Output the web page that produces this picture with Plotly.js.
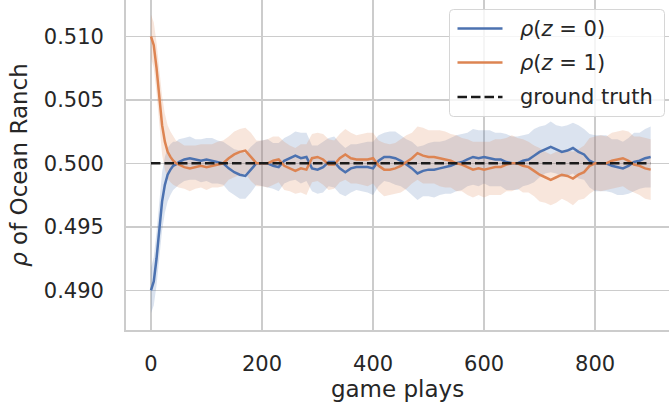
<!DOCTYPE html>
<html>
<head>
<meta charset="utf-8">
<script src="https://cdn.plot.ly/plotly-3.0.1.min.js"></script>
<style>html,body{margin:0;padding:0;background:#fff;}#chart{width:669px;height:410px;}</style>
</head>
<body>
<div id="chart"></div>
<script>
// ---- data ----
const gamePlays = [0,5,10,15,20,25,30,35,40,45,50,
  60,70,80,90,100,110,120,130,140,150,
  160,170,180,190,200,210,220,230,240,250,
  260,270,280,290,300,310,320,330,340,350,
  360,370,380,390,400,410,420,430,440,450,
  460,470,480,490,500,510,520,530,540,550,
  560,570,580,590,600,610,620,630,640,650,
  660,670,680,690,700,710,720,730,740,750,
  760,770,780,790,800,810,820,830,840,850,
  860,870,880,890,900];

const rhoZ0 = [0.4900,0.4907,0.4925,0.4950,0.4970,0.4983,0.4991,0.4995,0.4998,0.4999,0.5001,
  0.5003,0.5004,0.5003,0.5002,0.5003,0.5002,0.5001,0.5000,0.4996,0.4993,
  0.4991,0.4990,0.4995,0.5000,0.5000,0.5000,0.4998,0.4997,0.5002,0.5004,
  0.5006,0.5004,0.5005,0.4996,0.4995,0.4997,0.5001,0.5001,0.4996,0.4993,
  0.4996,0.4997,0.4997,0.4997,0.4996,0.5002,0.5005,0.5005,0.5004,0.5002,
  0.4999,0.4996,0.4992,0.4994,0.4995,0.4995,0.4996,0.4997,0.4998,0.5000,
  0.5001,0.5003,0.5005,0.5004,0.5005,0.5004,0.5003,0.5003,0.5001,0.5000,
  0.5000,0.5002,0.5003,0.5006,0.5009,0.5011,0.5013,0.5011,0.5009,0.5010,
  0.5012,0.5009,0.5007,0.5002,0.5000,0.5000,0.5000,0.4998,0.4997,0.4996,
  0.4998,0.5001,0.5002,0.5004,0.5005];

const rhoZ1 = [0.5100,0.5093,0.5075,0.5050,0.5030,0.5017,0.5009,0.5005,0.5002,0.5000,0.4999,
  0.4997,0.4996,0.4997,0.4998,0.4997,0.4998,0.4999,0.5000,0.5004,0.5007,
  0.5009,0.5010,0.5005,0.5000,0.5000,0.5000,0.5002,0.5003,0.4998,0.4996,
  0.4994,0.4996,0.4995,0.5004,0.5005,0.5003,0.4999,0.4999,0.5004,0.5007,
  0.5004,0.5003,0.5003,0.5003,0.5004,0.4998,0.4995,0.4995,0.4996,0.4998,
  0.5001,0.5004,0.5008,0.5006,0.5005,0.5005,0.5004,0.5003,0.5002,0.5000,
  0.4999,0.4997,0.4995,0.4996,0.4995,0.4996,0.4997,0.4997,0.4999,0.5000,
  0.5000,0.4998,0.4997,0.4994,0.4991,0.4989,0.4987,0.4989,0.4991,0.4990,
  0.4988,0.4991,0.4993,0.4998,0.5000,0.5000,0.5000,0.5002,0.5003,0.5004,
  0.5002,0.4999,0.4998,0.4996,0.4995];

// half-width of the shaded band around each series
const errZ0 = [0.0018,0.0019,0.0021,0.0023,0.0023,0.0022,0.0021,0.0020,0.0019,0.0018,0.0018,
  0.0017,0.0017,0.0016,0.0017,0.0017,0.0018,0.0017,0.0017,0.0018,0.0018,
  0.0019,0.0018,0.0018,0.0017,0.0018,0.0019,0.0018,0.0019,0.0018,0.0018,
  0.0019,0.0020,0.0019,0.0018,0.0019,0.0020,0.0019,0.0020,0.0020,0.0019,
  0.0019,0.0018,0.0019,0.0020,0.0021,0.0020,0.0019,0.0020,0.0021,0.0020,
  0.0020,0.0021,0.0021,0.0020,0.0021,0.0022,0.0021,0.0021,0.0022,0.0022,
  0.0022,0.0021,0.0022,0.0022,0.0021,0.0022,0.0021,0.0021,0.0022,0.0021,
  0.0021,0.0020,0.0020,0.0021,0.0020,0.0019,0.0020,0.0019,0.0020,0.0020,
  0.0020,0.0021,0.0020,0.0021,0.0022,0.0022,0.0022,0.0021,0.0022,0.0021,
  0.0022,0.0023,0.0022,0.0023,0.0024];

const errZ1 = [0.0017,0.0018,0.0020,0.0022,0.0023,0.0022,0.0021,0.0020,0.0019,0.0018,0.0018,
  0.0017,0.0018,0.0017,0.0017,0.0018,0.0017,0.0018,0.0018,0.0017,0.0018,
  0.0018,0.0018,0.0019,0.0018,0.0018,0.0019,0.0019,0.0018,0.0019,0.0018,
  0.0018,0.0019,0.0020,0.0019,0.0019,0.0020,0.0020,0.0019,0.0019,0.0020,
  0.0020,0.0019,0.0020,0.0021,0.0020,0.0020,0.0021,0.0020,0.0020,0.0021,
  0.0021,0.0020,0.0021,0.0022,0.0021,0.0021,0.0022,0.0022,0.0021,0.0022,
  0.0021,0.0022,0.0022,0.0021,0.0022,0.0021,0.0022,0.0022,0.0021,0.0022,
  0.0020,0.0021,0.0020,0.0020,0.0021,0.0020,0.0020,0.0020,0.0019,0.0020,
  0.0021,0.0020,0.0021,0.0022,0.0021,0.0022,0.0021,0.0022,0.0022,0.0022,
  0.0023,0.0022,0.0023,0.0024,0.0024];

const groundTruthX = [0, 900];
const groundTruthY = [0.5, 0.5];

const seriesNames = ['<i>ρ</i>(<i>z</i> = 0)', '<i>ρ</i>(<i>z</i> = 1)', 'ground truth'];
const xTicks = [0, 200, 400, 600, 800];
const yTicks = [0.490, 0.495, 0.500, 0.505, 0.510];

// ---- styling ----
const BLUE = '#4c72b0', ORANGE = '#dd8452', TXT = '#262626', GRID = '#cccccc';
const FONT = 'DejaVu Sans, sans-serif';

function band(y, e, fill) {
  const up = y.map((v, i) => v + e[i]);
  const lo = y.map((v, i) => v - e[i]);
  return [
    {x: gamePlays, y: lo, mode: 'lines', line: {width: 0}, hoverinfo: 'skip', showlegend: false},
    {x: gamePlays, y: up, mode: 'lines', line: {width: 0}, fill: 'tonexty', fillcolor: fill, hoverinfo: 'skip', showlegend: false}
  ];
}

const traces = [
  ...band(rhoZ0, errZ0, 'rgba(76,114,176,0.2)'),
  ...band(rhoZ1, errZ1, 'rgba(221,132,82,0.2)'),
  {x: gamePlays, y: rhoZ0, mode: 'lines', name: seriesNames[0], line: {color: BLUE, width: 2.5}, showlegend: false},
  {x: gamePlays, y: rhoZ1, mode: 'lines', name: seriesNames[1], line: {color: ORANGE, width: 2.5}, showlegend: false},
  {x: groundTruthX, y: groundTruthY, mode: 'lines', name: seriesNames[2], line: {color: '#1a1a1a', width: 2.6, dash: '9.5px,4px'}, showlegend: false}
];

// legend drawn in paper coordinates (plot area: x 126..669, y 0..330 px)
const PW = 543, PH = 330, L = 126;
const px = v => (v - L) / PW;
const py = v => 1 - v / PH;
const lx0 = 449.5, lx1 = 664.5, ly0 = 9.5, ly1 = 116.5, r = 4;
const legendPath = `M ${px(lx0 + r)} ${py(ly0)} L ${px(lx1 - r)} ${py(ly0)} Q ${px(lx1)} ${py(ly0)} ${px(lx1)} ${py(ly0 + r)} ` +
  `L ${px(lx1)} ${py(ly1 - r)} Q ${px(lx1)} ${py(ly1)} ${px(lx1 - r)} ${py(ly1)} ` +
  `L ${px(lx0 + r)} ${py(ly1)} Q ${px(lx0)} ${py(ly1)} ${px(lx0)} ${py(ly1 - r)} ` +
  `L ${px(lx0)} ${py(ly0 + r)} Q ${px(lx0)} ${py(ly0)} ${px(lx0 + r)} ${py(ly0)} Z`;
const rows = [28.5, 62.5, 97];
const legendColors = [BLUE, ORANGE, '#1a1a1a'];
const legendDash = ['solid', 'solid', '9.5px,4px'];

const shapes = [
  {type: 'path', xref: 'paper', yref: 'paper', path: legendPath, fillcolor: 'rgba(255,255,255,0.8)', line: {color: '#d6d6d6', width: 1}, layer: 'above'}
];
rows.forEach((ry, i) => shapes.push({type: 'line', xref: 'paper', yref: 'paper', x0: px(457.5), x1: px(502.5), y0: py(ry), y1: py(ry),
  line: {color: legendColors[i], width: 2.5, dash: legendDash[i]}, layer: 'above'}));
const annotations = rows.map((ry, i) => ({xref: 'paper', yref: 'paper', x: px(518), y: py(ry), xanchor: 'left', yanchor: 'middle',
  text: seriesNames[i], showarrow: false, font: {family: FONT, size: 21, color: TXT}}));

const layout = {
  width: 669, height: 410,
  margin: {l: 126, r: 0, t: 0, b: 80},
  paper_bgcolor: '#ffffff', plot_bgcolor: '#ffffff',
  font: {family: FONT, color: TXT, size: 21},
  showlegend: false,
  xaxis: {
    range: [-45, 933], tickvals: xTicks, ticktext: xTicks.map(String),
    showgrid: true, gridcolor: GRID, gridwidth: 1.5, zeroline: false,
    showline: true, linecolor: GRID, linewidth: 1.9, mirror: false,
    ticks: '', ticklabelstandoff: 14, tickfont: {family: FONT, size: 21, color: TXT},
    title: {text: 'game plays', font: {family: FONT, size: 23, color: TXT}, standoff: 6}
  },
  yaxis: {
    range: [0.48687, 0.51286], tickvals: yTicks, ticktext: yTicks.map(v => v.toFixed(3)),
    showgrid: true, gridcolor: GRID, gridwidth: 1.5, zeroline: false,
    showline: true, linecolor: GRID, linewidth: 1.9, mirror: false,
    ticks: '', ticklabelstandoff: 16, tickfont: {family: FONT, size: 21, color: TXT},
    title: {text: '<i>ρ</i> of Ocean Ranch', font: {family: FONT, size: 23, color: TXT}, standoff: 10}
  },
  shapes: shapes,
  annotations: annotations
};

Plotly.newPlot('chart', traces, layout, {staticPlot: true, displayModeBar: false});
</script>
</body>
</html>
